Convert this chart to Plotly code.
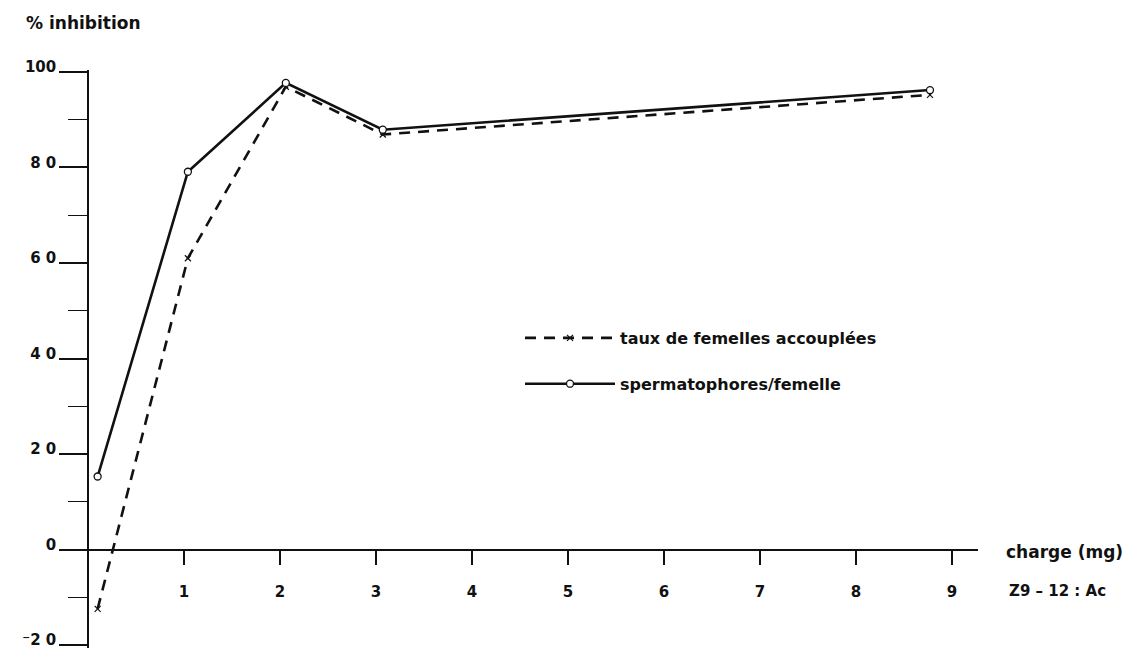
import plotly.graph_objects as go

# ---- data ----
charge = [0.1, 1.04, 2.06, 3.07, 8.77]
taux_accouplees = [-12.4, 61.0, 96.9, 86.9, 95.2]
spermatophores = [15.3, 79.1, 97.7, 87.9, 96.2]
x_ticks = [1, 2, 3, 4, 5, 6, 7, 8, 9]
y_ticks = [-20, 0, 20, 40, 60, 80, 100]
y_ticktext = ["⁻2 0", "0", "2 0", "4 0", "6 0", "8 0", "100"]

# ---- layout geometry (page pixels; the page body adds an 8 px offset) ----
W, H = 1146, 648
OFF = 8
L_PX, R_PX, T_PX, B_PX = 65 - OFF, 978 - OFF, 70 - OFF, 648 - OFF
X_MIN, X_MAX = -0.24, 9.27
Y_MIN, Y_MAX = -20.6, 100.4

def px_x(p):
    return (p - OFF - L_PX) / (R_PX - L_PX)

def px_y(p):
    return (B_PX - (p - OFF)) / (B_PX - T_PX)

FONT = "DejaVu Sans"
INK = "#111111"

fig = go.Figure()
fig.add_trace(go.Scatter(
    x=charge, y=taux_accouplees, mode="lines+markers",
    name="taux de femelles accouplées",
    line=dict(color=INK, width=2.6, dash="11px,8px"),
    marker=dict(symbol="x-thin-open", size=6, color=INK, line=dict(color=INK, width=1.2)),
    legendgroup="a",
))
fig.add_trace(go.Scatter(
    x=charge, y=spermatophores, mode="lines+markers",
    name="spermatophores/femelle",
    line=dict(color=INK, width=2.6),
    marker=dict(symbol="circle", size=7, color="white", line=dict(color=INK, width=1.3)),
    legendgroup="b",
))

fig.update_layout(
    width=W, height=H,
    margin=dict(l=L_PX, r=W - R_PX, t=T_PX, b=H - B_PX, pad=0),
    paper_bgcolor="white", plot_bgcolor="white",
    font=dict(family=FONT, size=15, color=INK),
    showlegend=True,
    legend=dict(
        x=px_x(520), y=px_y(321), xanchor="left", yanchor="top",
        xref="paper", yref="paper",
        itemwidth=90, tracegroupgap=22,
        font=dict(family=FONT, size=16, color=INK, weight="bold"),
        bgcolor="rgba(0,0,0,0)",
    ),
    xaxis=dict(
        range=[X_MIN, X_MAX], anchor="free", position=(0 - Y_MIN) / (Y_MAX - Y_MIN),
        automargin=False,
        showline=True, linecolor=INK, linewidth=1.6,
        showgrid=False, zeroline=False,
        tickmode="array", tickvals=x_ticks,
        ticks="outside", ticklen=15, tickwidth=1.6, tickcolor=INK,
        ticklabelstandoff=14,
        tickfont=dict(family=FONT, size=15, color=INK, weight="bold"),
    ),
    yaxis=dict(
        range=[Y_MIN, Y_MAX], anchor="free", position=(0 - X_MIN) / (X_MAX - X_MIN),
        automargin=False,
        showline=True, linecolor=INK, linewidth=1.6,
        showgrid=False, zeroline=False,
        tickmode="array", tickvals=y_ticks, ticktext=y_ticktext,
        ticks="outside", ticklen=28, tickwidth=1.6, tickcolor=INK,
        ticklabelshift=-5,
        minor=dict(dtick=10, ticks="outside", ticklen=19, tickwidth=1.4, tickcolor=INK, showgrid=False),
        tickfont=dict(family=FONT, size=15, color=INK, weight="bold"),
    ),
    annotations=[
        dict(text="% inhibition", xref="paper", yref="paper",
             x=px_x(24), y=px_y(23), xanchor="left", yanchor="middle", showarrow=False,
             font=dict(family=FONT, size=17, color=INK, weight="bold")),
        dict(text="charge (mg)", xref="paper", yref="paper",
             x=px_x(1004), y=px_y(552), xanchor="left", yanchor="middle", showarrow=False,
             font=dict(family=FONT, size=17, color=INK, weight="bold")),
        dict(text="Z9 – 12 : Ac", xref="paper", yref="paper",
             x=px_x(1007), y=px_y(591), xanchor="left", yanchor="middle", showarrow=False,
             font=dict(family=FONT, size=15, color=INK, weight="bold")),
    ],
)

fig.write_html("out.html")
